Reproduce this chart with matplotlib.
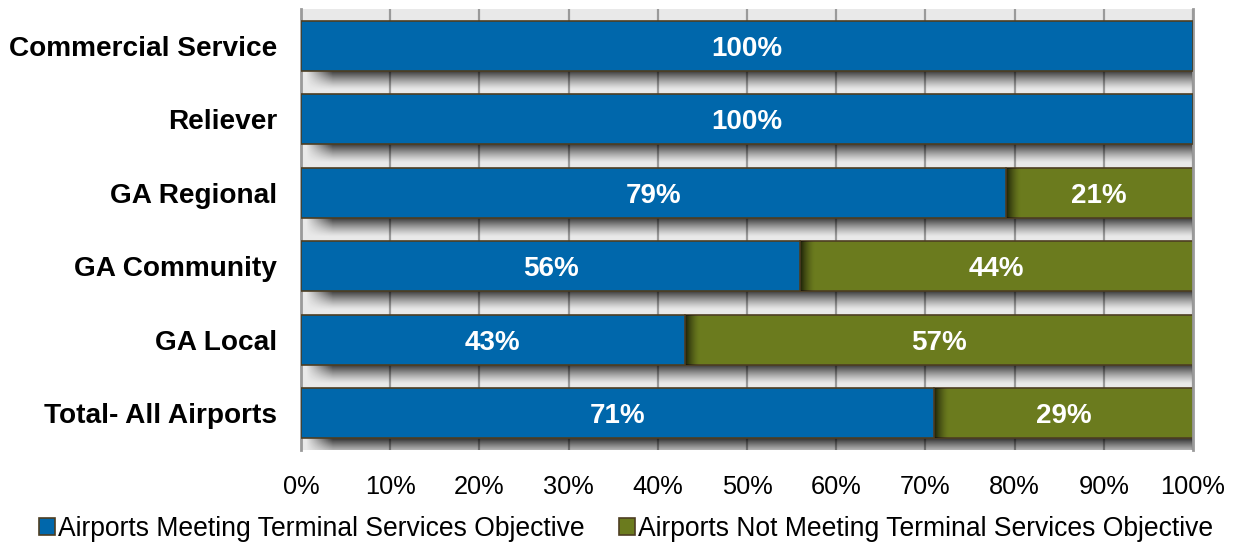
import numpy as np
import matplotlib.pyplot as plt
from matplotlib.patches import Patch

plt.rcParams['font.family'] = ['Liberation Sans', 'DejaVu Sans']

categories = ['Commercial Service', 'Reliever', 'GA Regional',
              'GA Community', 'GA Local', 'Total- All Airports']
meeting = [100, 100, 79, 56, 43, 71]
not_meeting = [0, 0, 21, 44, 57, 29]
series_names = ['Airports Meeting Terminal Services Objective',
                'Airports Not Meeting Terminal Services Objective']

blue = '#0067AB'
olive = '#6B7B1E'
edge = '#4E3E22'
bar_h = 0.68

fig = plt.figure(figsize=(12.37, 5.44), dpi=100)
ax = fig.add_axes([0.2433, 0.1728, 0.7211, 0.8107])
ax.set_facecolor('#E9E9E9')

y = np.arange(len(categories))

ax.barh(y, meeting, height=bar_h, color=blue, edgecolor=edge, linewidth=1.2, zorder=3)
ax.barh(y, not_meeting, left=meeting, height=bar_h, color=olive, edgecolor=edge,
        linewidth=1.2, zorder=2)

# soft drop shadows under each bar
sh_depth = 0.26
for yi, m, n in zip(y, meeting, not_meeting):
    total = m + n
    ny, nx = 40, 200
    v = np.linspace(1, 0, ny)[:, None] ** 1.3
    xs = np.linspace(0, 1, nx)[None, :]
    h = np.clip(xs / 0.03, 0, 1)
    img = np.zeros((ny, nx, 4))
    img[..., 3] = 0.8 * v * h
    ax.imshow(img, extent=[0.3, total, yi + bar_h / 2 + sh_depth, yi + bar_h / 2],
              origin='upper', aspect='auto', zorder=1.5, interpolation='bilinear')
    # shadow thrown by the blue segment onto the olive one
    if n > 0:
        g = np.zeros((10, 60, 4))
        g[..., 3] = 0.75 * np.linspace(1, 0, 60)[None, :] ** 1.5
        ax.imshow(g, extent=[m, m + 1.6, yi + bar_h / 2, yi - bar_h / 2],
                  origin='upper', aspect='auto', zorder=2.5, interpolation='bilinear')

for yi, m, n in zip(y, meeting, not_meeting):
    ax.text(m / 2, yi, f'{m}%', ha='center', va='center_baseline', color='white',
            fontsize=20, fontweight='bold', zorder=5)
    if n > 0:
        ax.text(m + n / 2, yi, f'{n}%', ha='center', va='center_baseline', color='white',
                fontsize=20, fontweight='bold', zorder=5)

ax.set_xlim(0, 100)
ax.set_ylim(len(categories) - 0.5, -0.5)
ax.set_xticks(np.arange(0, 101, 10))
ax.set_xticklabels([f'{t}%' for t in range(0, 101, 10)], fontsize=18.3)
ax.set_yticks(y)
ax.set_yticklabels(categories, fontsize=20.2, fontweight='bold')
ax.tick_params(length=0)
ax.tick_params(axis='y', pad=17)
ax.tick_params(axis='x', pad=18)
ax.xaxis.grid(True, color='#9A9A9A', linewidth=1.6, zorder=1)
ax.set_axisbelow(True)
for side, sp in ax.spines.items():
    sp.set_color('#9A9A9A')
    sp.set_linewidth(2)
ax.spines['top'].set_visible(False)
ax.spines['bottom'].set_visible(False)

handles = [Patch(facecolor=blue, edgecolor=edge, linewidth=1.2),
           Patch(facecolor=olive, edgecolor=edge, linewidth=1.2)]
fig.legend(handles, series_names, loc='center', bbox_to_anchor=(0.506, 0.028),
           ncol=2, frameon=False, fontsize=19.1, handlelength=0.6, handleheight=0.6,
           handletextpad=0.12, columnspacing=1.3)

fig.savefig('out.png', dpi=100)
